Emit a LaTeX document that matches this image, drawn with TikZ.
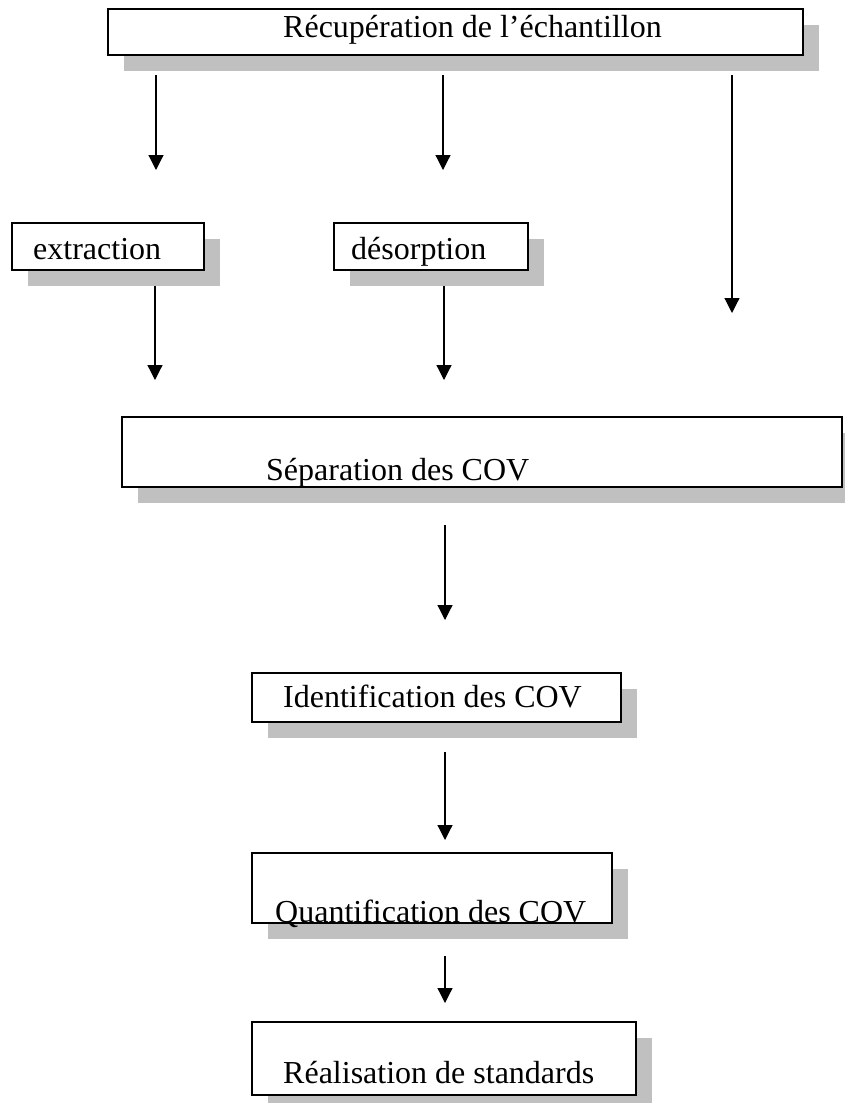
\documentclass[tikz,border=0pt]{standalone}
\usepackage{fontspec}
\setmainfont{Liberation Serif}
\usetikzlibrary{arrows.meta,shadows}
\definecolor{shadowgray}{HTML}{C0C0C0}
\begin{document}
\begin{tikzpicture}[x=1pt,y=1pt,
  box/.style={draw=black, line width=1.5pt, fill=white, inner sep=0pt, outer sep=0pt, anchor=north west,
    drop shadow={shadow xshift=16pt, shadow yshift=-16pt, fill=shadowgray, opacity=1}},
  lbl/.style={anchor=base west, inner sep=0pt, font=\fontsize{32}{38}\selectfont},
  arr/.style={line width=1.2pt, -{Triangle[width=15pt,length=15pt]}}]
\useasboundingbox (0,0) rectangle (844,-1103);
% boxes
\node[box, minimum width=695pt, minimum height=46pt] (rec) at (108,-9) {};
\node[box, minimum width=192pt, minimum height=47pt] (ext) at (12,-223) {};
\node[box, minimum width=194pt, minimum height=47pt] (des) at (334,-223) {};
\node[box, minimum width=720pt, minimum height=70pt] (sep) at (122,-417) {};
\node[box, minimum width=369pt, minimum height=49pt] (ide) at (252,-673) {};
\node[box, minimum width=360pt, minimum height=70pt] (qua) at (252,-853) {};
\node[box, minimum width=384pt, minimum height=73pt] (rea) at (252,-1022) {};
% labels
\node[lbl] (trec) at (283,-37) {Récupération de l’échantillon};
\node[lbl] (text) at (33,-259) {extraction};
\node[lbl] (tdes) at (351,-259) {désorption};
\node[lbl] (tsep) at (266,-480) {Séparation des COV};
\node[lbl] (tide) at (283,-707) {Identification des COV};
\node[lbl] (tqua) at (275,-922) {Quantification des COV};
\node[lbl] (trea) at (283,-1083) {Réalisation de standards};
% arrow end points
\coordinate (a1s) at (156,-75);  \coordinate (a1e) at (156,-170);
\coordinate (a2s) at (443,-75);  \coordinate (a2e) at (443,-170);
\coordinate (a3s) at (732,-75);  \coordinate (a3e) at (732,-313);
\coordinate (a4s) at (155,-286); \coordinate (a4e) at (155,-380);
\coordinate (a5s) at (444,-286); \coordinate (a5e) at (444,-380);
\coordinate (a6s) at (445,-525); \coordinate (a6e) at (445,-620);
\coordinate (a7s) at (445,-752); \coordinate (a7e) at (445,-840);
\coordinate (a8s) at (445,-956); \coordinate (a8e) at (445,-1003);
\foreach \i in {1,...,8} { \draw[arr] (a\i s) -- (a\i e); }
\end{tikzpicture}
\end{document}
